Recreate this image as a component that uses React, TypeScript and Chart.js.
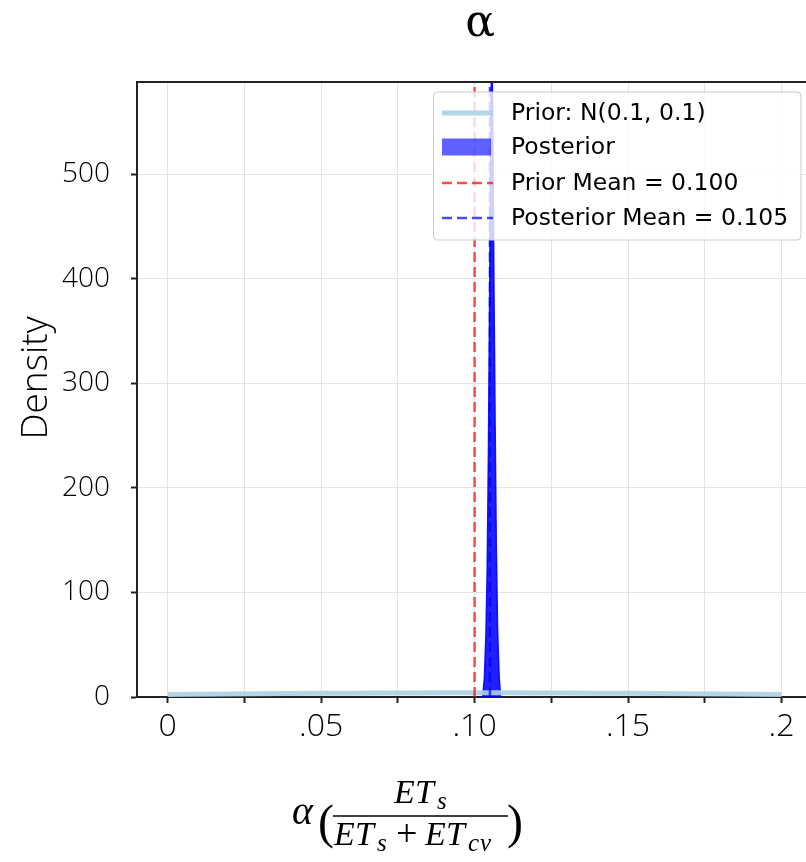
import React, { useEffect, useRef } from 'react';
import { Chart, registerables } from 'chart.js';

Chart.register(...registerables);

const W = 806;
const H = 862;

// ---- data ----
const priorX = [0, 0.02, 0.04, 0.06, 0.08, 0.1, 0.12, 0.14, 0.16, 0.18, 0.2];
const priorDensity = [2.42, 2.9, 3.35, 3.68, 3.91, 3.99, 3.91, 3.68, 3.35, 2.9, 2.42];

const posteriorX = [0.1026, 0.1032, 0.1037, 0.1041, 0.1045, 0.1049, 0.1053, 0.1056, 0.1059, 0.1063, 0.1067, 0.1071, 0.1075, 0.108, 0.1085];
const posteriorDensity = [0, 18, 60, 120, 230, 380, 540, 640, 560, 400, 260, 140, 65, 20, 0];

const priorMean = 0.1;
const posteriorMean = 0.105;

const xMin = -0.01;
const xMax = 0.208;
const yMin = 0;
const yMax = 588;

const xTickValues = [0, 0.025, 0.05, 0.075, 0.1, 0.125, 0.15, 0.175, 0.2];
const xTickLabels = ['0', '', '.05', '', '.10', '', '.15', '', '.2'];
const yTickValues = [0, 100, 200, 300, 400, 500];

const legendLabels = ['Prior: N(0.1, 0.1)', 'Posterior', 'Prior Mean = 0.100', 'Posterior Mean = 0.105'];
const titleText = 'α';
const yAxisTitle = 'Density';

// ---- styles ----
const priorColor = 'rgba(170,210,230,0.9)';
const posteriorFill = 'rgba(0,0,255,0.88)';
const posteriorLegendFill = 'rgba(0,0,255,0.62)';
const priorMeanColor = 'rgba(255,0,0,0.7)';
const postMeanColor = 'rgba(0,0,255,0.7)';
const tickFont = '"Open Sans", "DejaVu Sans", sans-serif';
const mathFont = '"Liberation Serif", serif';

const decorations = {
  id: 'decorations',
  afterDraw(chart: any) {
    const ctx: CanvasRenderingContext2D = chart.ctx;
    const area = chart.chartArea;
    ctx.save();

    // top spine
    ctx.strokeStyle = '#222';
    ctx.lineWidth = 2;
    ctx.beginPath();
    ctx.moveTo(area.left - 1, area.top);
    ctx.lineTo(area.right, area.top);
    ctx.stroke();

    // legend
    const lx = 433.5, ly = 92, lw = 367.5, lh = 148;
    ctx.beginPath();
    (ctx as any).roundRect(lx, ly, lw, lh, 4);
    ctx.fillStyle = 'rgba(255,255,255,0.8)';
    ctx.fill();
    ctx.strokeStyle = '#cccccc';
    ctx.lineWidth = 1;
    ctx.stroke();

    const rows = [113, 147, 183, 218];
    const sx0 = 442, sx1 = 493;
    ctx.strokeStyle = priorColor;
    ctx.lineWidth = 5;
    ctx.setLineDash([]);
    ctx.beginPath();
    ctx.moveTo(sx0, rows[0]);
    ctx.lineTo(sx1, rows[0]);
    ctx.stroke();
    ctx.fillStyle = posteriorLegendFill;
    ctx.fillRect(sx0, rows[1] - 8.5, 49, 17);
    ctx.lineWidth = 2.5;
    ctx.setLineDash([10, 5]);
    ctx.strokeStyle = priorMeanColor;
    ctx.beginPath();
    ctx.moveTo(sx0, rows[2]);
    ctx.lineTo(sx1, rows[2]);
    ctx.stroke();
    ctx.strokeStyle = postMeanColor;
    ctx.beginPath();
    ctx.moveTo(sx0, rows[3]);
    ctx.lineTo(sx1, rows[3]);
    ctx.stroke();
    ctx.setLineDash([]);

    ctx.fillStyle = '#000';
    ctx.font = '23.5px "DejaVu Sans", sans-serif';
    ctx.textAlign = 'left';
    ctx.textBaseline = 'middle';
    legendLabels.forEach((t, i) => ctx.fillText(t, 511, rows[i] + 1));

    // title
    ctx.fillStyle = '#000';
    ctx.font = '44px "DejaVu Serif", serif';
    ctx.textAlign = 'center';
    ctx.textBaseline = 'alphabetic';
    ctx.fillText(titleText, 480, 36);

    // y axis title
    ctx.save();
    ctx.translate(36, 378);
    ctx.rotate(-Math.PI / 2);
    ctx.font = '300 37px ' + tickFont;
    ctx.textAlign = 'center';
    ctx.textBaseline = 'middle';
    ctx.fillStyle = '#000';
    ctx.fillText(yAxisTitle, 0, 0);
    ctx.restore();

    // x axis formula: α(ET_s / (ET_s + ET_cv))
    const it = (size: number) => 'italic ' + size + 'px ' + mathFont;
    const up = (size: number) => size + 'px ' + mathFont;
    ctx.fillStyle = '#000';
    ctx.textAlign = 'left';
    ctx.textBaseline = 'alphabetic';
    const put = (s: string, x: number, y: number, f: string) => {
      ctx.font = f;
      ctx.fillText(s, x, y);
    };
    put('α', 292, 824, it(40));
    put('(', 318, 838, up(48));
    put(')', 507, 838, up(48));
    // numerator
    put('E', 394, 803, it(34));
    put('T', 415, 803, it(34));
    put('s', 437, 809, it(25));
    // fraction bar
    ctx.strokeStyle = '#000';
    ctx.lineWidth = 1.5;
    ctx.beginPath();
    ctx.moveTo(333, 816);
    ctx.lineTo(508, 816);
    ctx.stroke();
    // denominator
    put('E', 334, 845, it(34));
    put('T', 355, 845, it(34));
    put('s', 377, 851, it(25));
    put('+', 396, 846, up(38));
    put('E', 425, 845, it(34));
    put('T', 446, 845, it(34));
    put('c', 468, 851, it(25));
    put('v', 480, 851, it(25));

    ctx.restore();
  },
};

export default function App() {
  const canvasRef = useRef<HTMLCanvasElement | null>(null);

  useEffect(() => {
    const canvas = canvasRef.current;
    if (!canvas) return;
    const chart = new Chart(canvas, {
      type: 'line',
      data: {
        datasets: [
          {
            label: legendLabels[2],
            data: [{ x: priorMean, y: yMin }, { x: priorMean, y: yMax }],
            borderColor: priorMeanColor,
            borderWidth: 2.5,
            borderDash: [10, 5],
            pointRadius: 0,
            fill: false,
          },
          {
            label: legendLabels[3],
            data: [{ x: posteriorMean, y: yMin }, { x: posteriorMean, y: yMax }],
            borderColor: postMeanColor,
            borderWidth: 2.5,
            borderDash: [10, 5],
            pointRadius: 0,
            fill: false,
          },
          {
            label: legendLabels[0],
            data: priorX.map((x, i) => ({ x, y: priorDensity[i] })),
            borderColor: priorColor,
            borderWidth: 5,
            pointRadius: 0,
            fill: false,
            tension: 0.3,
          },
          {
            label: legendLabels[1],
            data: posteriorX.map((x, i) => ({ x, y: posteriorDensity[i] })),
            borderColor: 'rgba(0,0,255,0.9)',
            backgroundColor: posteriorFill,
            borderWidth: 1.5,
            pointRadius: 0,
            fill: 'origin',
            tension: 0,
          },
        ],
      },
      options: {
        responsive: false,
        animation: false,
        events: [],
        layout: { padding: { top: 82, left: 0, right: 0, bottom: 0 } },
        plugins: {
          legend: { display: false },
          tooltip: { enabled: false },
          title: { display: false },
        },
        scales: {
          x: {
            type: 'linear',
            min: xMin,
            max: xMax,
            afterBuildTicks: (s: any) => {
              s.ticks = xTickValues.map((v) => ({ value: v }));
            },
            afterFit: (s: any) => {
              s.height = H - 697;
            },
            ticks: {
              autoSkip: false,
              maxRotation: 0,
              minRotation: 0,
              padding: 5,
              color: '#000',
              font: { family: tickFont, size: 32, weight: '300' as any },
              callback: (value: any) => {
                const i = xTickValues.findIndex((v) => Math.abs(v - Number(value)) < 1e-9);
                return i >= 0 ? xTickLabels[i] : '';
              },
            },
            grid: {
              color: '#e3e3e3',
              lineWidth: 1,
              tickColor: '#222',
              tickLength: 6,
              tickWidth: 2,
              drawTicks: true,
            },
            border: { color: '#222', width: 2 },
          },
          y: {
            type: 'linear',
            min: yMin,
            max: yMax,
            afterBuildTicks: (s: any) => {
              s.ticks = yTickValues.map((v) => ({ value: v }));
            },
            afterFit: (s: any) => {
              s.width = 137;
            },
            ticks: {
              autoSkip: false,
              padding: 21,
              color: '#000',
              font: { family: tickFont, size: 28, weight: '300' as any },
              callback: (value: any) => String(value),
            },
            grid: {
              color: '#e3e3e3',
              lineWidth: 1,
              tickColor: '#222',
              tickLength: 6,
              tickWidth: 2,
              drawTicks: true,
            },
            border: { color: '#222', width: 2 },
          },
        },
      },
      plugins: [decorations],
    });
    return () => chart.destroy();
  }, []);

  return (
    <div style={{ position: 'absolute', left: 0, top: 0, width: W, height: H, background: '#fff' }}>
      <canvas ref={canvasRef} width={W} height={H} style={{ display: 'block', width: W, height: H }} />
    </div>
  );
}
